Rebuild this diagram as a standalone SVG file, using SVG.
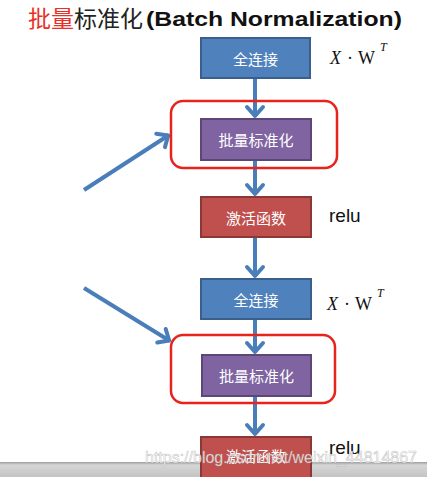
<svg xmlns="http://www.w3.org/2000/svg" width="427" height="477" viewBox="0 0 427 477">
<style>
.box{stroke-width:2}
.fc{fill:#4f81bd;stroke:#3a5f8c}
.bn{fill:#8064a2;stroke:#5c4776}
.act{fill:#c0504d;stroke:#8c3836}
.lbl{font-family:"Noto Sans CJK SC","Noto Sans",sans-serif;font-size:15px;fill:#ffffff;text-anchor:middle;dominant-baseline:central}
.hl{fill:none;stroke:#e8231c;stroke-width:2.5}
.conn{stroke:#4a7ebb;stroke-width:4;fill:none}
.relu{font-family:"Liberation Sans",Arial,sans-serif;font-size:19px;fill:#111}
.math{font-family:"Liberation Serif","Times New Roman",serif;font-size:18px;fill:#111}
</style>
<defs>
<marker id="ah" markerUnits="userSpaceOnUse" viewBox="-14 -12 16 24" markerWidth="16" markerHeight="24" refX="0" refY="0" orient="auto">
<path d="M-10,-8 L-1,0 L-10,8" fill="none" stroke="#4a7ebb" stroke-width="4" stroke-linejoin="round" stroke-linecap="round"/>
</marker>
<linearGradient id="bar" x1="0" y1="0" x2="0" y2="1">
<stop offset="0" stop-color="#9c9c9c"/>
<stop offset="0.2" stop-color="#d6d6d6"/>
<stop offset="1" stop-color="#c4c4c4"/>
</linearGradient>
</defs>
<rect width="427" height="477" fill="#ffffff"/>
<g id="title">
<text x="28" y="27" font-family="Noto Sans CJK SC,sans-serif" font-size="23" fill="#222"><tspan fill="#e8302a">批量</tspan>标准化</text>
<text x="146" y="26" font-family="Liberation Sans,Arial,sans-serif" font-size="20.5" font-weight="bold" fill="#111" textLength="256" lengthAdjust="spacingAndGlyphs">(Batch Normalization)</text>
</g>
<rect x="0" y="462" width="427" height="15" fill="url(#bar)"/>
<g id="connectors">
<line class="conn" x1="255" y1="79" x2="255" y2="117" marker-end="url(#ah)"/>
<line class="conn" x1="255" y1="160" x2="255" y2="195" marker-end="url(#ah)"/>
<line class="conn" x1="255" y1="237" x2="255" y2="277" marker-end="url(#ah)"/>
<line class="conn" x1="255" y1="319" x2="255" y2="353" marker-end="url(#ah)"/>
<line class="conn" x1="255" y1="396" x2="255" y2="435" marker-end="url(#ah)"/>
<line class="conn" x1="84" y1="190" x2="169" y2="135" marker-end="url(#ah)"/>
<line class="conn" x1="84" y1="288" x2="170" y2="341" marker-end="url(#ah)"/>
</g>
<g id="fc1">
<rect class="box fc" x="201" y="38" width="109" height="40"/>
<text class="lbl" x="255.5" y="58">全连接</text>
<text class="math" y="64"><tspan x="330" font-style="italic">X</tspan><tspan x="347">·</tspan><tspan x="358">W</tspan><tspan x="380" y="51" font-size="12" font-style="italic">T</tspan></text>
</g>
<g id="hl1"><rect class="hl" x="171" y="101" width="166" height="67" rx="12"/></g>
<g id="bn1">
<rect class="box bn" x="201" y="119" width="110" height="41"/>
<text class="lbl" x="256" y="139.5">批量标准化</text>
</g>
<g id="act1">
<rect class="box act" x="201" y="197" width="110" height="40"/>
<text class="lbl" x="256" y="217">激活函数</text>
<text class="relu" x="329" y="222">relu</text>
</g>
<g id="fc2">
<rect class="box fc" x="201" y="279" width="110" height="40"/>
<text class="lbl" x="256" y="299">全连接</text>
<text class="math" y="310"><tspan x="327" font-style="italic">X</tspan><tspan x="344">·</tspan><tspan x="355">W</tspan><tspan x="377" y="297" font-size="12" font-style="italic">T</tspan></text>
</g>
<g id="hl2"><rect class="hl" x="171" y="335" width="164" height="68" rx="12"/></g>
<g id="bn2">
<rect class="box bn" x="202" y="355" width="109" height="41"/>
<text class="lbl" x="256.5" y="375.5">批量标准化</text>
</g>
<g id="act2">
<rect class="box act" x="201" y="437" width="110" height="42"/>
<text class="lbl" x="256" y="455">激活函数</text>
<text class="relu" x="329" y="454">relu</text>
</g>
<text x="145" y="463" font-family="Liberation Sans,Arial,sans-serif" font-size="17" fill="#ffffff" fill-opacity="0.85" stroke="#9a9a9a" stroke-opacity="0.6" stroke-width="0.6" textLength="272" lengthAdjust="spacingAndGlyphs">https://blog.csdn.net/weixin_44814867</text>
</svg>
